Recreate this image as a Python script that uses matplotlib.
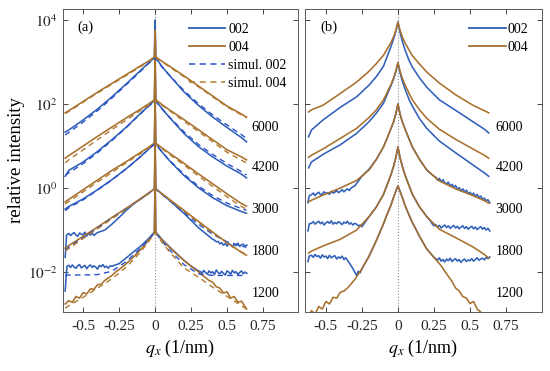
import numpy as np
import matplotlib
matplotlib.use("Agg")
import matplotlib.pyplot as plt
from matplotlib.lines import Line2D

plt.rcParams['font.family'] = ['Liberation Serif', 'DejaVu Serif']
plt.rcParams['mathtext.fontset'] = 'stix'

BLUE = '#3060b8'
BROWN = '#a8702c'
SBLUE = '#2a52cc'
SBROWN = '#b07a30'

samples = ['6000', '4200', '3000', '1800', '1200']
label_logy = [1.45, 0.5, -0.5, -1.5, -2.5]

# ---------------- panel (a): log10 relative intensity ----------------
qa = [-0.625, -0.6, -0.5, -0.4, -0.3, -0.2, -0.1, -0.05, -0.005, 0, 0.005,
      0.05, 0.1, 0.2, 0.3, 0.4, 0.5, 0.6, 0.635]

a004_6000 = [1.79, 1.84, 2.06, 2.28, 2.49, 2.70, 2.91, 3.01, 3.12, 3.75, 3.12, 3.01, 2.90, 2.67, 2.43, 2.19, 1.95, 1.76, 1.69]
a002_6000 = [1.33, 1.38, 1.62, 1.88, 2.17, 2.48, 2.80, 2.96, 3.10, 4.00, 3.10, 2.88, 2.68, 2.29, 1.97, 1.69, 1.44, 1.20, 1.10]
s004_6000 = [1.77, 1.82, 2.04, 2.26, 2.47, 2.68, 2.89, 3.00, 3.10, 3.10, 3.10, 3.00, 2.88, 2.65, 2.41, 2.17, 1.93, 1.74, 1.67]
s002_6000 = [1.26, 1.32, 1.57, 1.84, 2.14, 2.46, 2.78, 2.95, 3.08, 3.08, 3.08, 2.87, 2.68, 2.32, 2.01, 1.74, 1.50, 1.27, 1.18]

a004_4200 = [0.71, 0.77, 1.00, 1.23, 1.45, 1.67, 1.88, 1.99, 2.10, 3.30, 2.10, 1.98, 1.86, 1.63, 1.39, 1.15, 0.91, 0.74, 0.67]
a002_4200 = [0.28, 0.42, 0.62, 0.87, 1.15, 1.45, 1.78, 1.94, 2.08, 3.00, 2.08, 1.88, 1.68, 1.30, 0.99, 0.74, 0.52, 0.33, 0.24]
s004_4200 = [0.60, 0.67, 0.91, 1.15, 1.39, 1.62, 1.85, 1.96, 2.07, 2.07, 2.07, 1.96, 1.84, 1.59, 1.35, 1.10, 0.85, 0.66, 0.60]
s002_4200 = [0.30, 0.36, 0.58, 0.84, 1.13, 1.44, 1.77, 1.93, 2.06, 2.06, 2.06, 1.87, 1.69, 1.34, 1.04, 0.80, 0.58, 0.39, 0.31]

a004_3000 = [-0.33, -0.27, -0.04, 0.19, 0.42, 0.63, 0.85, 0.96, 1.07, 2.30, 1.07, 0.95, 0.83, 0.59, 0.34, 0.10, -0.14, -0.37, -0.43]
a002_3000 = [-0.50, -0.44, -0.26, -0.04, 0.20, 0.46, 0.75, 0.91, 1.05, 2.00, 1.05, 0.85, 0.65, 0.30, 0.01, -0.23, -0.42, -0.56, -0.60]
s004_3000 = [-0.38, -0.32, -0.09, 0.14, 0.37, 0.60, 0.82, 0.94, 1.05, 1.05, 1.05, 0.93, 0.80, 0.55, 0.29, 0.04, -0.21, -0.44, -0.50]
s002_3000 = [-0.54, -0.47, -0.28, -0.05, 0.19, 0.46, 0.75, 0.91, 1.04, 1.04, 1.04, 0.85, 0.66, 0.33, 0.05, -0.18, -0.36, -0.49, -0.53]

a004_1800 = [-1.43, -1.37, -1.15, -0.93, -0.70, -0.48, -0.25, -0.13, -0.02, 1.30, -0.02, -0.14, -0.27, -0.53, -0.79, -1.05, -1.30, -1.53, -1.60]
s004_1800 = [-1.50, -1.44, -1.20, -0.97, -0.73, -0.50, -0.26, -0.14, -0.03, -0.03, -0.03, -0.15, -0.28, -0.55, -0.81, -1.07, -1.31, -1.52, -1.58]
s002_1800 = [-1.47, -1.41, -1.18, -0.95, -0.72, -0.49, -0.26, -0.14, -0.03, -0.03, -0.03, -0.16, -0.30, -0.58, -0.86, -1.10, -1.28, -1.38, -1.41]

q_a002_1800 = np.concatenate([[-0.625, -0.615], np.linspace(-0.6, -0.4, 17),
                              [-0.35, -0.3, -0.25, -0.2, -0.15, -0.1, -0.05, -0.005, 0, 0.005,
                               0.05, 0.1, 0.15, 0.2, 0.25, 0.3, 0.35, 0.4],
                              np.linspace(0.4125, 0.6375, 19)])
a002_1800 = [-1.65, -1.12,
             -1.08, -1.13, -1.09, -1.06, -1.12, -1.15, -1.07, -1.10, -1.11, -1.05, -1.14, -1.08, -1.12, -1.07, -1.13, -1.09, -1.06,
             -1.00, -0.86, -0.70, -0.53, -0.38, -0.26, -0.14, -0.02, 0.90, -0.02, -0.15, -0.29, -0.45, -0.60, -0.77, -0.94, -1.08, -1.22,
             -1.24, -1.28, -1.27, -1.33, -1.30, -1.36, -1.32, -1.38, -1.33, -1.35, -1.40, -1.33, -1.37, -1.31, -1.39, -1.35, -1.34, -1.38, -1.36]

q_a004_1200 = [-0.625, -0.6, -0.575, -0.55, -0.525, -0.5, -0.475, -0.45, -0.425, -0.4, -0.375, -0.35, -0.325, -0.3,
               -0.275, -0.25, -0.2, -0.15, -0.1, -0.05, -0.005, 0, 0.005, 0.05, 0.1, 0.15, 0.2, 0.25, 0.275, 0.3,
               0.325, 0.35, 0.375, 0.4, 0.425, 0.45, 0.475, 0.5, 0.525, 0.55, 0.575, 0.6, 0.625, 0.635]
a004_1200 = [-2.76, -2.68, -2.72, -2.58, -2.62, -2.49, -2.52, -2.40, -2.41, -2.30, -2.29, -2.20, -2.14, -2.08,
             -2.00, -1.94, -1.80, -1.64, -1.46, -1.26, -1.06, 0.30, -1.06, -1.24, -1.41, -1.57, -1.72, -1.86, -1.93, -1.99,
             -2.07, -2.13, -2.20, -2.24, -2.35, -2.38, -2.50, -2.47, -2.62, -2.58, -2.72, -2.69, -2.82, -2.88]
s004_1200 = [-2.86, -2.80, -2.60, -2.38, -2.16, -1.88, -1.52, -1.30, -1.08, -1.08, -1.08, -1.30, -1.52, -1.90, -2.12, -2.36, -2.58, -2.80, -2.88]
s002_1200 = [-2.07, -2.07, -2.07, -2.06, -1.98, -1.75, -1.43, -1.25, -1.07, -1.07, -1.07, -1.27, -1.47, -1.82, -2.04, -2.08, -2.08, -2.08, -2.08]

q_a002_1200 = np.concatenate([[-0.625, -0.6125], np.linspace(-0.6, -0.3, 25),
                              [-0.25, -0.2, -0.15, -0.1, -0.05, -0.005, 0, 0.005, 0.05, 0.1, 0.15, 0.2, 0.25, 0.3],
                              np.linspace(0.3125, 0.6375, 27)])
a002_1200 = [-2.45, -1.86,
             -1.84, -1.89, -1.83, -1.88, -1.91, -1.85, -1.82, -1.90, -1.87, -1.84, -1.92, -1.86, -1.83, -1.89, -1.85, -1.88,
             -1.93, -1.84, -1.87, -1.82, -1.89, -1.86, -1.91, -1.85, -1.86,
             -1.80, -1.66, -1.52, -1.38, -1.22, -1.05, 0.20, -1.05, -1.23, -1.40, -1.56, -1.72, -1.86, -1.97,
             -1.98, -2.03, -1.96, -2.01, -2.05, -1.97, -2.02, -1.99, -2.06, -1.95, -2.01, -2.04, -1.98, -2.03, -2.07, -1.97,
             -2.00, -2.05, -1.96, -2.02, -1.99, -2.06, -2.01, -1.97, -2.04, -2.00, -2.03]

# ---------------- panel (b) ----------------
qb = [-0.62, -0.6, -0.52, -0.4, -0.287, -0.2, -0.15, -0.1, -0.078, -0.05, -0.03, -0.015, 0,
      0.015, 0.03, 0.05, 0.078, 0.1, 0.15, 0.2, 0.287, 0.4, 0.52, 0.6, 0.63]

b004_6000 = [1.81, 1.86, 1.97, 2.25, 2.52, 2.78, 2.96, 3.16, 3.29, 3.45, 3.60, 3.75, 3.95,
             3.75, 3.60, 3.45, 3.28, 3.15, 2.95, 2.76, 2.50, 2.22, 1.97, 1.84, 1.79]
b002_6000 = [1.22, 1.38, 1.62, 1.92, 2.17, 2.45, 2.65, 2.90, 3.10, 3.35, 3.55, 3.72, 3.95,
             3.70, 3.50, 3.28, 3.03, 2.88, 2.62, 2.40, 2.10, 1.85, 1.58, 1.40, 1.31]
b004_4200 = [0.73, 0.78, 0.93, 1.18, 1.42, 1.68, 1.86, 2.10, 2.25, 2.45, 2.62, 2.78, 2.98,
             2.78, 2.62, 2.45, 2.25, 2.10, 1.86, 1.66, 1.40, 1.16, 0.93, 0.78, 0.71]
b002_4200 = [0.48, 0.62, 0.80, 1.03, 1.30, 1.58, 1.78, 2.02, 2.20, 2.42, 2.60, 2.76, 2.98,
             2.74, 2.55, 2.35, 2.10, 1.95, 1.65, 1.42, 1.12, 0.84, 0.55, 0.36, 0.28]
b004_3000 = [-0.33, -0.29, -0.17, 0.00, 0.18, 0.43, 0.68, 0.98, 1.16, 1.40, 1.58, 1.76, 2.00,
             1.76, 1.58, 1.40, 1.16, 0.98, 0.68, 0.43, 0.17, -0.02, -0.18, -0.30, -0.36]
b004_1800 = [-1.55, -1.50, -1.38, -1.22, -1.00, -0.68, -0.45, -0.15, 0.05, 0.30, 0.52, 0.72, 0.98,
             0.72, 0.52, 0.30, 0.05, -0.15, -0.45, -0.68, -0.98, -1.18, -1.40, -1.58, -1.67]

q_b002_3000 = np.concatenate([[-0.625, -0.615], np.linspace(-0.6, -0.3, 25),
                              [-0.25, -0.2, -0.15, -0.1, -0.078, -0.05, -0.03, -0.015, 0, 0.015, 0.03,
                               0.05, 0.078, 0.1, 0.15, 0.2, 0.25],
                              np.linspace(0.2625, 0.6375, 31)])
b002_3000 = [-0.35, -0.18,
             -0.16, -0.12, -0.18, -0.13, -0.10, -0.16, -0.14, -0.09, -0.13, -0.11, -0.15, -0.08, -0.12, -0.10, -0.06,
             -0.11, -0.08, -0.04, -0.09, -0.05, -0.02, -0.06, 0.00, 0.03, 0.05,
             0.28, 0.45, 0.68, 0.98, 1.16, 1.40, 1.58, 1.76, 2.00, 1.76, 1.58, 1.40, 1.16, 0.98, 0.68, 0.43, 0.28,
             0.26, 0.19, 0.23, 0.15, 0.20, 0.12, 0.10, 0.14, 0.05, 0.09, 0.02, 0.06, -0.03, 0.01, -0.07, -0.02,
             -0.09, -0.05, -0.13, -0.10, -0.16, -0.12, -0.20, -0.15, -0.23, -0.19, -0.27, -0.24, -0.30, -0.28, -0.35]

q_b002_1800 = np.concatenate([[-0.625, -0.615], np.linspace(-0.6, -0.25, 29),
                              [-0.2, -0.15, -0.1, -0.078, -0.05, -0.03, -0.015, 0, 0.015, 0.03, 0.05,
                               0.078, 0.1, 0.15, 0.2, 0.225],
                              np.linspace(0.2375, 0.6375, 33)])
b002_1800 = [-1.02, -0.85,
             -0.84, -0.80, -0.86, -0.82, -0.79, -0.85, -0.81, -0.88, -0.83, -0.80, -0.84, -0.78, -0.86, -0.82, -0.85,
             -0.80, -0.83, -0.87, -0.81, -0.84, -0.79, -0.86, -0.83, -0.88, -0.84, -0.86, -0.90, -0.88, -0.92,
             -0.68, -0.45, -0.15, 0.05, 0.30, 0.52, 0.72, 0.98, 0.72, 0.52, 0.30, 0.05, -0.15, -0.45, -0.68, -0.78,
             -0.85, -0.90, -0.87, -0.93, -0.89, -0.95, -0.91, -0.88, -0.94, -0.90, -0.96, -0.92, -0.89, -0.95, -0.91,
             -0.97, -0.93, -0.90, -0.96, -0.92, -0.98, -0.94, -0.91, -0.97, -0.93, -0.99, -0.95, -0.92, -0.98, -0.94,
             -1.00, -0.96, -1.02]

q_b004_1200 = [-0.625, -0.6, -0.575, -0.55, -0.525, -0.5, -0.475, -0.45, -0.425, -0.4, -0.375, -0.35, -0.325,
               -0.3, -0.275, -0.25, -0.2, -0.15, -0.1, -0.078, -0.05, -0.03, -0.015, 0, 0.015, 0.03, 0.05, 0.078,
               0.1, 0.15, 0.2, 0.25, 0.275, 0.3, 0.325, 0.35, 0.375, 0.4, 0.425, 0.45, 0.475, 0.5, 0.525, 0.55,
               0.575, 0.6, 0.625]
b004_1200 = [-3.10, -2.92, -3.00, -2.82, -2.88, -2.70, -2.76, -2.60, -2.62, -2.48, -2.45, -2.38, -2.28,
             -2.18, -2.05, -1.92, -1.62, -1.25, -0.85, -0.65, -0.42, -0.22, -0.08, 0.05, -0.08, -0.22, -0.42, -0.65,
             -0.82, -1.15, -1.45, -1.65, -1.75, -1.85, -1.98, -2.10, -2.22, -2.38, -2.45, -2.58, -2.62, -2.75, -2.70,
             -2.88, -2.95, -3.10, -3.05]

q_b002_1200 = np.concatenate([[-0.625, -0.615], np.linspace(-0.6, -0.35, 21),
                              [-0.3375, -0.325, -0.3125, -0.3, -0.2875, -0.275, -0.2625, -0.25],
                              [-0.2, -0.15, -0.1, -0.078, -0.05, -0.03, -0.015, 0, 0.015, 0.03, 0.05, 0.078,
                               0.1, 0.15, 0.2, 0.225, 0.25],
                              np.linspace(0.2625, 0.6375, 31)])
b002_1200 = [-1.75, -1.62,
             -1.60, -1.65, -1.58, -1.63, -1.61, -1.67, -1.59, -1.64, -1.62, -1.68, -1.60, -1.66, -1.63, -1.61, -1.69,
             -1.64, -1.67, -1.62, -1.70, -1.66, -1.72,
             -1.78, -1.85, -1.92, -2.00, -2.08, -1.98, -2.02, -1.92,
             -1.62, -1.25, -0.85, -0.65, -0.42, -0.22, -0.08, 0.05, -0.08, -0.22, -0.42, -0.65, -0.82, -1.15, -1.45,
             -1.55, -1.65,
             -1.68, -1.72, -1.66, -1.74, -1.70, -1.76, -1.69, -1.73, -1.67, -1.75, -1.71, -1.68, -1.74, -1.70, -1.77,
             -1.72, -1.69, -1.75, -1.71, -1.73, -1.68, -1.74, -1.70, -1.66, -1.72, -1.69, -1.67, -1.71, -1.65, -1.68,
             -1.64]


def I(v):
    return 10.0 ** np.asarray(v, dtype=float)


fig = plt.figure(figsize=(5.5, 3.71), dpi=100)
axA = fig.add_axes([63 / 550, 1 - 312 / 371, 235 / 550, 303 / 371])
axB = fig.add_axes([305 / 550, 1 - 312 / 371, 237 / 550, 303 / 371])

lw = 1.15
# panel (a)
for q2, v2 in [(qa, a002_6000), (qa, a002_4200), (qa, a002_3000), (q_a002_1800, a002_1800), (q_a002_1200, a002_1200)]:
    axA.plot(q2, I(v2), color=BLUE, lw=lw, zorder=2)
for q4, v4 in [(qa, a004_6000), (qa, a004_4200), (qa, a004_3000), (qa, a004_1800), (q_a004_1200, a004_1200)]:
    axA.plot(q4, I(v4), color=BROWN, lw=lw, zorder=3)
for v in [s002_6000, s002_4200, s002_3000, s002_1800, s002_1200]:
    axA.plot(qa, I(v), color=SBLUE, lw=1.0, ls=(0, (4, 3)), zorder=4)
for v in [s004_6000, s004_4200, s004_3000, s004_1800, s004_1200]:
    axA.plot(qa, I(v), color=SBROWN, lw=1.0, ls=(0, (4, 3)), zorder=5)

# panel (b)
for q2, v2 in [(qb, b002_6000), (qb, b002_4200), (q_b002_3000, b002_3000), (q_b002_1800, b002_1800), (q_b002_1200, b002_1200)]:
    axB.plot(q2, I(v2), color=BLUE, lw=lw, zorder=2)
for q4, v4 in [(qb, b004_6000), (qb, b004_4200), (qb, b004_3000), (qb, b004_1800), (q_b004_1200, b004_1200)]:
    axB.plot(q4, I(v4), color=BROWN, lw=lw, zorder=3)

for ax, xl in [(axA, (-0.64, 0.993)), (axB, (-0.645, 1.0))]:
    ax.set_yscale('log')
    ax.set_xlim(*xl)
    ax.set_ylim(10 ** -2.95, 10 ** 4.26)
    ax.axvline(0, color='0.55', ls=':', lw=0.8, zorder=1)
    ax.set_xticks([-0.5, -0.25, 0, 0.25, 0.5, 0.75])
    ax.set_xticklabels(['-0.5', '-0.25', '0', '0.25', '0.5', '0.75'])
    ax.set_yticks([1e-2, 1e0, 1e2, 1e4])
    ax.yaxis.set_minor_locator(matplotlib.ticker.NullLocator())
    ax.tick_params(direction='in', top=True, right=True, length=3.5, width=0.6,
                   labelsize=11, colors='0.15', pad=6)
    ax.tick_params(axis='y', pad=4)
    for s in ax.spines.values():
        s.set_linewidth(0.7)
        s.set_color('0.35')
    ax.set_xlabel('$q_x$ (1/nm)', fontsize=13, labelpad=3)
    for name, ly in zip(samples, label_logy):
        ax.text(0.803, 10 ** ly, name, transform=ax.get_yaxis_transform(), fontsize=10,
                va='center', ha='left')

axA.set_yticklabels(['$10^{-2}$', '$10^{0}$', '$10^{2}$', '$10^{4}$'])
axB.set_yticklabels([])
axA.set_ylabel('relative intensity', fontsize=13.5, labelpad=2)

axA.text(0.06, 0.94, '(a)', transform=axA.transAxes, fontsize=10.5, va='center', ha='left')
axB.text(0.063, 0.94, '(b)', transform=axB.transAxes, fontsize=10.5, va='center', ha='left')

hA = [Line2D([], [], color=BLUE, lw=1.3), Line2D([], [], color=BROWN, lw=1.3),
      Line2D([], [], color=SBLUE, lw=1.1, ls=(0, (4, 3))), Line2D([], [], color=SBROWN, lw=1.1, ls=(0, (4, 3)))]
axA.legend(hA, ['002', '004', 'simul. 002', 'simul. 004'], loc='upper left',
           bbox_to_anchor=(0.535, 0.955), frameon=False, fontsize=10, handlelength=2.6,
           handletextpad=0.25, labelspacing=0.36, borderpad=0, borderaxespad=0)
hB = [Line2D([], [], color=BLUE, lw=1.3), Line2D([], [], color=BROWN, lw=1.3)]
axB.legend(hB, ['002', '004'], loc='upper left', bbox_to_anchor=(0.69, 0.955), frameon=False,
           fontsize=10, handlelength=2.7, handletextpad=0.1, labelspacing=0.36, borderpad=0,
           borderaxespad=0)

fig.savefig('out.png', dpi=100)
